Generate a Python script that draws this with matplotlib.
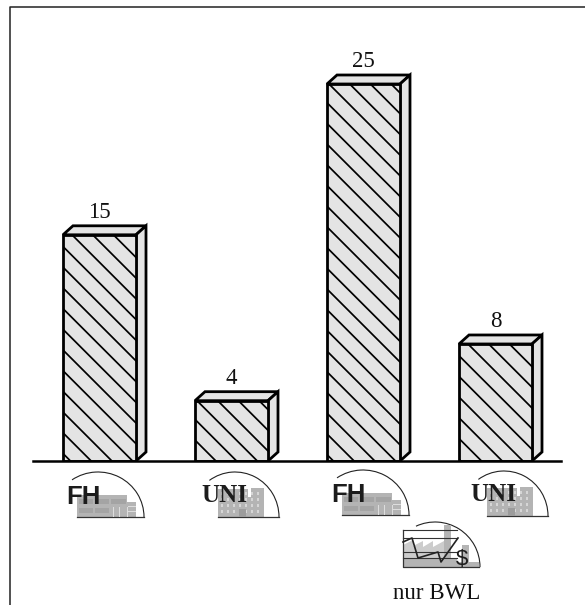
"""Bar chart with hatched 3D bars and small institution icons."""
import matplotlib

matplotlib.use("Agg")
import matplotlib.pyplot as plt
from matplotlib.patches import Arc, Polygon, Rectangle

plt.rcParams["font.family"] = ["Liberation Serif", "DejaVu Serif"]

# heights as drawn; the 8 bar stands a little short of its label in the source
values = [15, 4, 25, 7.76]
value_labels = ["15", "4", "25", "8"]
icon_labels = ["FH", "UNI", "FH", "UNI"]
footnote = "nur BWL"

W, H = 585, 605
BASE_PX = 461
PX_PER_UNIT = 15.08
BAR_W = 73
DEPTH_X, DEPTH_Y = 10, 9
centers = [99.5, 231.5, 363.5, 495.5]
hatch_phase = [9, 2, 2, 9]
HATCH_STEP = 20.7
FACE = "#e4e4e4"
GREY = "#b4b4b4"
INK = "#1c1c1c"

fig = plt.figure(figsize=(W / 100, H / 100), dpi=100)

# bars live in an axes whose y axis is the value scale
ax = fig.add_axes([0, (H - BASE_PX) / H, 1, BASE_PX / H])
ax.set_xlim(0, W)
ax.set_ylim(0, BASE_PX / PX_PER_UNIT)
ax.axis("off")

# icons and frame use plain pixel coordinates
px = fig.add_axes([0, 0, 1, 1])
px.set_xlim(0, W)
px.set_ylim(H, 0)
px.axis("off")
px.patch.set_alpha(0)

dx = DEPTH_X
dy = DEPTH_Y / PX_PER_UNIT
LW = 2.0

for xc, val, lab, phase in zip(centers, values, value_labels, hatch_phase):
    x0, x1 = xc - BAR_W / 2, xc + BAR_W / 2
    front = ax.bar(xc, val, BAR_W, color=FACE, edgecolor="none", zorder=3)[0]
    ax.add_patch(
        Polygon(
            [(x0, val), (x0 + dx, val + dy), (x1 + dx, val + dy), (x1, val)],
            closed=True, facecolor=FACE, edgecolor="black", linewidth=LW, zorder=2,
        )
    )
    ax.add_patch(
        Polygon(
            [(x1, val), (x1 + dx, val + dy), (x1 + dx, dy), (x1, 0)],
            closed=True, facecolor=FACE, edgecolor="black", linewidth=LW, zorder=2,
        )
    )
    # diagonal hatch, clipped to the front face
    height_px = val * PX_PER_UNIT
    start = x0 + phase - HATCH_STEP * int((height_px + BAR_W) / HATCH_STEP + 1)
    while start < x1:
        line, = ax.plot(
            [start, start + height_px], [val, 0],
            color="black", linewidth=1.25, zorder=4,
        )
        line.set_clip_path(front)
        start += HATCH_STEP
    # outline goes over the hatch ends
    ax.add_patch(
        Rectangle((x0, 0), BAR_W, val, fill=False, edgecolor="black", linewidth=LW, zorder=5)
    )
    ax.text(xc, val + dy + 0.52, lab, ha="center", va="baseline", fontsize=16.5, color="#111111")

px.plot([33, 561], [BASE_PX, BASE_PX], color="black", linewidth=1.8, zorder=6)

# page rule: only the left and top edges are there
px.plot([9.5, 9.5, W], [H, 6.5, 6.5], color="#222222", linewidth=1.1)


def dome(x_left, x_right, base, cx, start_deg):
    rx = x_right - cx
    px.add_patch(
        Arc((cx, base), 2 * rx, 2 * 45, theta1=360 - start_deg, theta2=360,
            color="#222222", linewidth=0.8)
    )
    px.plot([x_left, x_right], [base, base], color="#333333", linewidth=0.9, zorder=3)


def grey(x, y, w, h, col=GREY, z=2):
    px.add_patch(Rectangle((x, y), w, h, facecolor=col, edgecolor="none", zorder=z))


def fh_icon(ox, oy, label):
    dome(77 + ox, 144 + ox, 517 + oy, 98 + ox, 125)
    grey(77 + ox, 495 + oy, 50 + 9, 22)
    grey(127 + ox, 495 + oy, 10, 7, "white")
    for wx, wy, ww in [(79, 499, 14), (95, 499, 14), (111, 499, 15), (79, 508, 14), (95, 508, 14)]:
        grey(wx + ox, wy + oy, ww, 5, "#a4a4a4", 3)
    for lx in (113, 119, 127):
        grey(lx + ox, 507 + oy, 1.2, 10, "#dddddd", 3)
    for ly in (506, 511):
        grey(128 + ox, ly + oy, 8, 1.2, "#dddddd", 3)
    px.text(66 + ox, 504 + oy, label, family=["Liberation Sans"], fontweight="bold",
            fontsize=18.5, color=INK, ha="left", va="baseline", zorder=5)


def uni_icon(ox, oy, label):
    dome(218 + ox, 279 + ox, 517 + oy, 235 + ox, 125)
    grey(218 + ox, 497 + oy, 46, 20)
    grey(218 + ox, 489 + oy, 30, 10)
    grey(251 + ox, 488 + oy, 13, 12)
    for wx in range(221, 263, 6):
        for wy in range(492, 516, 6):
            grey(wx + ox, wy + oy, 2, 3.4, "#d6d6d6", 3)
    grey(239 + ox, 509 + oy, 7, 8, "#9c9c9c", 4)
    px.text(201 + ox, 502 + oy, label, fontweight="bold", fontsize=18,
            color=INK, ha="left", va="baseline", zorder=5)


fh_icon(0, 0, icon_labels[0])
uni_icon(0, 0, icon_labels[1])
fh_icon(265, -2, icon_labels[2])
uni_icon(269, -1, icon_labels[3])

# chart-and-factory icon above the footnote
px.add_patch(
    Arc((435, 567), 90, 90, theta1=245, theta2=360, color="#222222", linewidth=0.8)
)
grey(403, 558, 54, 9)
grey(457, 562, 22, 5)
grey(462, 545, 7, 17)
grey(444, 525, 7, 33)
px.add_patch(
    Polygon(
        [(403, 558), (403, 545), (413, 540), (413, 546), (423, 541), (423, 547),
         (433, 541), (433, 547), (444, 541), (444, 558)],
        closed=True, facecolor="#cccccc", edgecolor="none", zorder=2,
    )
)
for y_line in (530, 538, 552, 558):
    px.plot([403, 457], [y_line, y_line], color="#333333", linewidth=0.8, zorder=3)
px.plot([403, 403, 479], [530, 567, 567], color="#333333", linewidth=0.9, zorder=3)
px.plot([403, 412, 418, 438, 441, 458], [542, 538, 558, 552, 562, 538],
        color="#222222", linewidth=1.2, zorder=4)
px.text(462, 565, "$", family=["Liberation Sans"], fontsize=16, color=INK,
        ha="center", va="baseline", parse_math=False, zorder=5)

px.text(437, 599, footnote, fontsize=16.5, color="#111111", ha="center", va="baseline")

fig.savefig("out.png", dpi=100)
